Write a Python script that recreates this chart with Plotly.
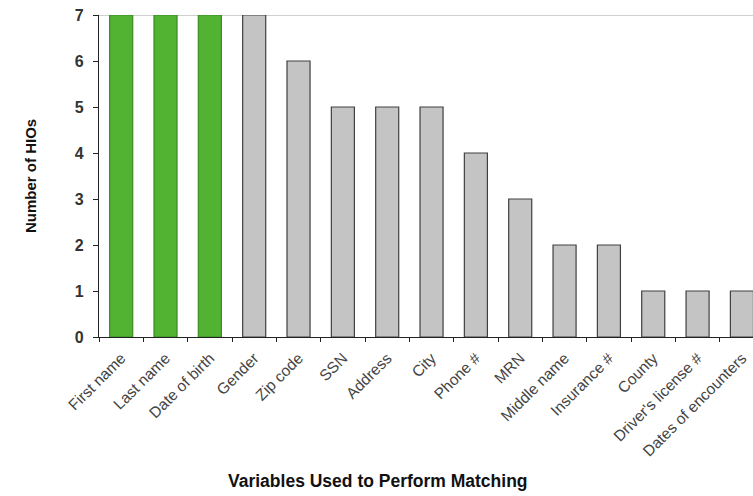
import plotly.graph_objects as go

categories = ["First name", "Last name", "Date of birth", "Gender", "Zip code", "SSN",
              "Address", "City", "Phone #", "MRN", "Middle name", "Insurance #",
              "County", "Driver's license #", "Dates of encounters"]
values = [7, 7, 7, 7, 6, 5, 5, 5, 4, 3, 2, 2, 1, 1, 1]
highlight = [True, True, True] + [False] * 12

fill = ["#52B232" if h else "#C4C4C4" for h in highlight]
line = ["#3A8A22" if h else "#404040" for h in highlight]

fig = go.Figure(go.Bar(
    x=categories, y=values,
    marker=dict(color=fill, line=dict(color=line, width=1.2)),
    width=0.52,
))

fig.add_shape(type="line", xref="paper", yref="y", x0=0, x1=1, y0=7, y1=7,
              line=dict(color="#A0A0A0", width=1.2), layer="below")

L, PW, PH = 99, 654, 322
fig.add_annotation(text="<b>Variables Used to Perform Matching</b>",
                   xref="paper", yref="paper", x=(378 - L) / PW, y=-144 / PH,
                   showarrow=False, font=dict(size=17.5, color="#111111"),
                   xanchor="center", yanchor="middle")
fig.add_annotation(text="<b>Number of HIOs</b>", textangle=-90,
                   xref="paper", yref="paper", x=(30 - L) / PW, y=0.5,
                   showarrow=False, font=dict(size=15, color="#111111"),
                   xanchor="center", yanchor="middle")

fig.update_layout(
    width=753, height=496,
    margin=dict(l=L, r=0, t=15, b=159),
    paper_bgcolor="white", plot_bgcolor="white",
    font=dict(family="Arial, Liberation Sans, sans-serif", color="#333333"),
    showlegend=False,
)
fig.update_xaxes(
    type="category", range=[-0.5, 14.25], automargin=False,
    tickangle=-45, tickfont=dict(size=15.5, color="#444444"),
    showline=True, linecolor="#222222", linewidth=1.2,
    ticks="outside", tickson="boundaries", ticklen=4, tickcolor="#222222",
    ticklabelstandoff=5,
    showgrid=False, ticklabeloverflow="allow",
)
fig.update_yaxes(
    range=[0, 7], dtick=1, automargin=False,
    tickfont=dict(size=16, color="#333333"),
    showline=True, linecolor="#222222", linewidth=1.2,
    ticks="outside", ticklen=5, tickcolor="#222222", ticklabelstandoff=6,
    showgrid=False, zeroline=False, ticklabeloverflow="allow",
    tickprefix="<b>", ticksuffix="</b>",
)

fig.write_html("out.html", config={"displayModeBar": False},
               post_script="document.body.style.margin='0';document.body.style.overflow='hidden';")
